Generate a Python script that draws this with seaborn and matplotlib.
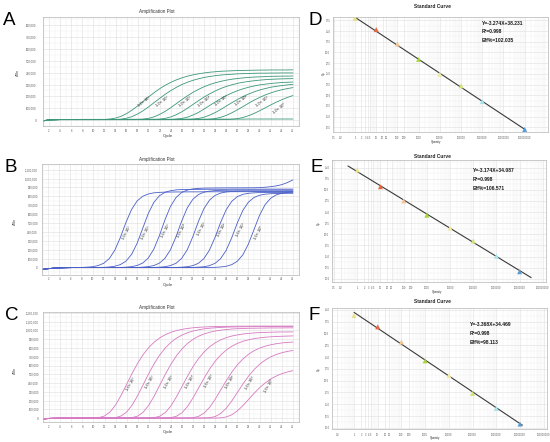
import matplotlib
matplotlib.use("Agg")
import numpy as np
import pandas as pd
import matplotlib.pyplot as plt
import seaborn as sns
from matplotlib.ticker import (FixedLocator, MultipleLocator, FuncFormatter,
                               LogLocator, NullFormatter, FormatStrFormatter)

# ---------------- data ----------------
curve_labels = ["1.0× 10⁷", "1.0× 10⁶", "1.0× 10⁵", "1.0× 10⁴",
                "1.0× 10³", "1.0× 10²", "1.0× 10¹", "1.0× 10⁰"]

# Panel A: delta Rn (thousands) per cycle 1..46
A7 = [-6,2,3,4,4,4,4,4,4,4,
      4,5,9,17,32,55,85,120,159,197,
      233,266,295,319,340,357,371,382,391,398,
      404,408,412,414,416,418,419,420,421,422,
      422,423,423,423,423,424]
A6 = [-6,2,3,4,4,4,4,4,4,4,
      4,4,4,5,8,16,30,52,80,113,
      149,185,219,250,277,301,320,336,349,360,
      368,375,380,384,387,390,392,393,395,396,
      396,397,397,398,398,398]
A5 = [-6,2,3,4,4,4,4,4,4,4,
      4,4,4,4,4,4,4,5,8,15,
      28,49,75,106,140,174,206,235,260,282,
      300,315,327,337,345,351,356,360,363,365,
      367,369,370,371,371,372]
A4 = [-6,2,3,4,4,4,4,4,4,4,
      4,4,4,4,4,4,4,4,4,4,
      5,8,15,27,46,71,101,133,165,195,
      222,246,267,284,298,310,319,326,332,337,
      341,344,346,348,349,350]
A3 = [-6,2,3,4,4,4,4,4,4,4,
      4,4,4,4,4,4,4,4,4,4,
      4,4,4,5,8,14,25,43,66,94,
      124,153,181,207,229,248,264,277,288,297,
      303,309,313,317,319,321]
A2 = [-6,2,3,4,4,4,4,4,4,4,
      4,4,4,4,4,4,4,4,4,4,
      4,4,4,4,4,4,5,8,14,25,
      42,64,90,119,147,174,199,220,238,254,
      266,277,285,291,297,301]
A1 = [-6,2,3,4,4,4,4,4,4,4,
      4,4,4,4,4,4,4,4,4,4,
      4,4,4,4,4,4,4,4,4,5,
      7,13,24,40,62,87,114,142,168,191,
      212,229,244,256,266,274]
A0 = [-6,2,3,4,4,4,4,4,4,4,
      4,4,4,4,4,4,4,4,4,4,
      4,4,4,4,4,4,4,4,4,4,
      4,4,4,5,7,12,22,37,56,79,
      103,128,151,172,191,207]
A_ntc = [-6,2,3,4,5,5,5,6,6,6,
         6,6,6,6,6,7,7,7,7,7,
         7,7,7,7,8,8,8,8,8,8,
         8,8,8,8,8,8,8,9,9,9,
         9,9,9,9,9,9]

# Panel B
B7 = [-20,-12,-6,-3,-1,0,1,2,5,10,
      23,49,101,197,341,509,653,749,801,827,
      840,845,848,849,850,850,851,851,851,852,
      852,852,852,853,853,853,853,853,854,854,
      854,854,854,855,855,855]
B6 = [-20,-12,-6,-3,-1,0,1,1,1,1,
      2,3,7,16,34,73,148,273,440,607,
      732,807,846,864,873,877,878,879,879,880,
      880,880,880,880,881,881,881,881,881,881,
      882,882,882,882,882,882]
B5 = [-20,-12,-6,-3,-1,0,1,1,1,1,
      1,1,1,1,2,5,11,24,51,107,
      207,359,536,688,788,844,871,884,890,893,
      894,895,895,896,896,896,896,897,897,899,
      903,909,918,932,955,985]
B4 = [-20,-12,-6,-3,-1,0,1,1,1,1,
      1,1,1,1,1,1,1,2,5,11,
      23,50,104,201,349,521,669,766,820,847,
      859,865,868,869,870,870,870,871,871,871,
      871,872,872,872,872,872]
B3 = [-20,-12,-6,-3,-1,0,1,1,1,1,
      1,1,1,1,1,1,1,1,1,1,
      2,5,10,23,49,103,199,345,515,661,
      757,811,837,850,855,858,859,860,860,860,
      861,861,861,861,862,862]
B2 = [-20,-12,-6,-3,-1,0,1,1,1,1,
      1,1,1,1,1,1,1,1,1,1,
      1,1,1,1,2,5,10,22,48,101,
      196,339,506,649,744,797,823,835,840,843,
      844,845,845,845,846,846]
B1 = [-20,-12,-6,-3,-1,0,1,1,1,1,
      1,1,1,1,1,1,1,1,1,1,
      1,1,1,1,1,1,1,2,5,10,
      22,48,100,193,335,500,642,735,787,813,
      825,830,833,834,835,835]
B0 = [-20,-12,-6,-3,-1,0,1,1,1,1,
      1,1,1,1,1,1,1,1,1,1,
      1,1,1,1,1,1,1,1,1,1,
      1,3,7,15,33,71,143,264,425,587,
      707,779,817,835,845,850]

# Panel C
C7 = [-12,-4,-1,0,0,0,0,0,0,1,
      5,24,69,150,260,386,513,628,727,807,
      869,917,953,980,999,1013,1023,1031,1036,1040,
      1043,1045,1046,1047,1048,1049,1049,1049,1050,1050,
      1050,1050,1050,1050,1050,1050]
C6 = [-12,-4,-1,0,0,0,0,0,0,0,
      0,0,1,5,24,69,149,259,384,510,
      625,723,803,865,913,948,975,994,1008,1019,
      1026,1031,1035,1038,1040,1041,1042,1043,1044,1044,
      1045,1045,1045,1045,1045,1045]
C5 = [-12,-4,-1,0,0,0,0,0,0,0,
      0,0,0,0,0,1,5,23,68,147,
      255,379,503,616,713,791,853,900,935,961,
      980,994,1004,1011,1017,1020,1023,1025,1026,1027,
      1028,1029,1029,1029,1030,1030]
C4 = [-12,-4,-1,0,0,0,0,0,0,0,
      0,0,0,0,0,0,0,0,0,1,
      5,22,65,140,244,362,481,590,682,757,
      815,860,894,919,937,950,960,967,972,976,
      978,980,982,983,983,984]
C3 = [-12,-4,-1,0,0,0,0,0,0,0,
      0,0,0,0,0,0,0,0,0,0,
      0,0,1,5,21,62,134,233,346,459,
      563,651,722,778,821,853,877,894,907,916,
      923,928,931,934,936,938]
C2 = [-12,-4,-1,0,0,0,0,0,0,0,
      0,0,0,0,0,0,0,0,0,0,
      0,0,0,0,0,0,1,4,20,58,
      125,218,324,430,527,609,676,729,769,799,
      821,837,849,858,864,868]
C1 = [-12,-4,-1,0,0,0,0,0,0,0,
      0,0,0,0,0,0,0,0,0,0,
      0,0,0,0,0,0,0,0,0,1,
      4,18,53,114,198,294,391,479,554,615,
      662,699,726,746,761,772]
C0 = [-12,-4,-1,0,0,0,0,0,0,0,
      0,0,0,0,0,0,0,0,0,0,
      0,0,0,0,0,0,0,0,0,0,
      0,0,3,13,38,83,144,213,283,347,
      401,446,480,507,526,541]

# Standard curves
d_qty = [1, 10, 100, 1000, 1e4, 1e5, 1e6, 1e8]
d_cp = [38.0, 35.35, 32.0, 28.4, 24.9, 22.2, 18.5, 12.0]
d_slope, d_icpt = -3.274, 38.231
d_eq = ["Y=-3.274X+38.231", "R²=0.998", "Eff%=102.035"]

e_qty = [1, 10, 100, 1000, 1e4, 1e5, 1e6, 1e7]
e_cp = [34.45, 30.7, 27.5, 24.3, 21.4, 18.5, 15.1, 11.6]
e_slope, e_icpt = -3.174, 34.087
e_eq = ["Y=-3.174X+34.087", "R²=0.998", "Eff%=106.571"]

f_qty = [1, 10, 100, 1000, 1e4, 1e5, 1e6, 1e7]
f_cp = [33.8, 31.4, 28.2, 24.2, 21.1, 17.3, 14.1, 10.8]
f_slope, f_icpt = -3.368, 34.469
f_eq = ["Y=-3.368X+34.469", "R²=0.998", "Eff%=98.113"]

# ---------------- style / layout ----------------
sns.set_style("white")
plt.rcParams["font.family"] = ["Liberation Sans", "DejaVu Sans"]

W, H = 550, 442
fig = plt.figure(figsize=(W / 100, H / 100), dpi=100)
fig.patch.set_facecolor("white")


def box(l, t, r, b):
    return [l / W, 1 - b / H, (r - l) / W, (b - t) / H]


def ftext(x, y, s, **kw):
    fig.text(x / W, 1 - y / H, s, **kw)


point_colors = ["#e6e18a", "#e9663c", "#f2c596", "#a6d23a",
                "#eeeaa0", "#d3df7a", "#a4e4ea", "#5a9dd6"]


def amp_panel(rect, curves, color, ylim, lab_x, lab_y, lab_rot, ypad):
    ax = fig.add_axes(rect)
    rows = []
    for j, vals in enumerate(curves):
        for i, v in enumerate(vals):
            rows.append({"cycle": i + 1, "drn": v * 1000.0, "curve": f"c{j}"})
    df = pd.DataFrame(rows)
    order = [f"c{j}" for j in range(len(curves))]
    sns.lineplot(data=df, x="cycle", y="drn", hue="curve", hue_order=order,
                 palette=[color] * len(order), estimator=None, legend=False,
                 linewidth=0.6, ax=ax)
    ax.set_xlim(0.9, 47.1)
    ax.set_ylim(*ylim)
    ax.xaxis.set_major_locator(FixedLocator(list(range(2, 47, 2))))
    ax.xaxis.set_minor_locator(MultipleLocator(1))
    ax.yaxis.set_major_locator(MultipleLocator(100000))
    ax.yaxis.set_minor_locator(MultipleLocator(50000))
    ax.yaxis.set_major_formatter(FuncFormatter(lambda v, p: f"{int(round(v)):,}"))
    ax.set_axisbelow(True)
    ax.grid(which="major", color="#dedede", linewidth=0.4)
    ax.grid(which="minor", color="#f0f0f0", linewidth=0.3)
    ax.tick_params(axis="both", which="major", labelsize=2.0, length=1.0,
                   width=0.3, colors="#555555")
    ax.tick_params(axis="x", pad=0.8)
    ax.tick_params(axis="y", pad=ypad)
    ax.tick_params(which="minor", length=0)
    ax.set_xlabel("")
    ax.set_ylabel("")
    for s in ax.spines.values():
        s.set_color("#b5b5b5")
        s.set_linewidth(0.5)
    for j in range(len(lab_x)):
        ax.text(lab_x[j], lab_y[j] * 1000.0, curve_labels[j], rotation=lab_rot,
                ha="center", va="center", fontsize=2.9, color="#222222",
                rotation_mode="anchor")
    return ax


def tick_fmt(v, p):
    if v < 1:
        return "%g" % v
    return str(int(round(v)))


def std_panel(rect, qty, cp, slope, icpt, line_logq, xlim_log, ylim, max_dec):
    ax = fig.add_axes(rect)
    ax.set_xscale("log")
    lq = np.array(line_logq)
    sns.lineplot(x=10.0 ** lq, y=slope * lq + icpt, color="#3a3a3a",
                 linewidth=0.8, ax=ax)
    dfp = pd.DataFrame({"q": qty, "cp": cp,
                        "k": [str(i) for i in range(len(qty))]})
    sns.scatterplot(data=dfp, x="q", y="cp", hue="k", palette=point_colors,
                    marker="^", s=13, edgecolor="none", legend=False, ax=ax,
                    zorder=3)
    ax.set_xlim(10 ** xlim_log[0], 10 ** xlim_log[1])
    ax.set_ylim(*ylim)
    ticks = [0.1, 0.2, 1, 2, 3, 4, 5, 10, 20, 30, 100, 200] + \
        [10 ** k for k in range(3, max_dec + 1)]
    ax.xaxis.set_major_locator(FixedLocator(ticks))
    ax.xaxis.set_major_formatter(FuncFormatter(tick_fmt))
    ax.xaxis.set_minor_locator(LogLocator(base=10, subs=np.arange(2, 10) * 1.0,
                                          numticks=40))
    ax.xaxis.set_minor_formatter(NullFormatter())
    ax.yaxis.set_major_locator(MultipleLocator(2.5))
    ax.yaxis.set_minor_locator(MultipleLocator(1.25))
    ax.yaxis.set_major_formatter(FormatStrFormatter("%.1f"))
    ax.set_axisbelow(True)
    ax.grid(which="major", color="#e0e0e0", linewidth=0.4)
    ax.grid(which="minor", color="#eeeeee", linewidth=0.3)
    ax.tick_params(axis="both", which="major", labelsize=1.8, length=0.8,
                   width=0.3, colors="#555555")
    ax.tick_params(axis="x", pad=1.8)
    ax.tick_params(axis="y", pad=1.0)
    ax.tick_params(which="minor", length=0)
    ax.set_xlabel("")
    ax.set_ylabel("")
    for s in ax.spines.values():
        s.set_color("#b5b5b5")
        s.set_linewidth(0.5)
    return ax


# ---------------- amplification plots ----------------
amp_panel(box(43, 17, 299, 126), [A7, A6, A5, A4, A3, A2, A1, A0, A_ntc],
          "#3c977a", (-50000, 870000),
          [19.2, 22.5, 26.5, 30.0, 33.0, 36.6, 40.4, 43.6],
          [152, 152, 156, 160, 160, 160, 156, 95], 38, 4.0)
amp_panel(box(42, 164, 299, 275), [B7, B6, B5, B4, B3, B2, B1, B0],
          "#4a5fc8", (-83000, 1164000),
          [16.1, 19.6, 23.2, 26.1, 29.6, 33.2, 36.6, 39.8],
          [393, 393, 411, 419, 430, 419, 419, 393], 62, 2.0)
amp_panel(box(43, 312, 299, 422), [C7, C6, C5, C4, C3, C2, C1, C0],
          "#d77ac2", (-45000, 1211000),
          [16.8, 20.1, 23.6, 27.4, 30.8, 34.6, 38.3, 41.6],
          [386, 409, 409, 409, 424, 409, 398, 370], 60, 2.0)

# ---------------- standard curves ----------------
std_panel(box(333, 17, 548, 132), d_qty, d_cp, d_slope, d_icpt, [0.0, 8.05],
          (-1.04, 9.1), (11.4, 38.3), 8)
std_panel(box(332, 160, 546, 282), e_qty, e_cp, e_slope, e_icpt, [-0.4, 7.5],
          (-1.09, 8.14), (9.3, 36.7), 8)
std_panel(box(332, 308, 547, 429), f_qty, f_cp, f_slope, f_icpt, [0.0, 7.1],
          (-0.93, 8.14), (9.75, 35.4), 8)

# ---------------- texts ----------------
for x, y, s in [(3, 25, "A"), (5, 171.5, "B"), (5, 320, "C"),
                (309, 25, "D"), (310, 171.5, "E"), (308, 320, "F")]:
    ftext(x, y, s, fontsize=13.5, ha="left", va="baseline", color="black")

for y in (11, 160, 308):
    ftext(157, y, "Amplification Plot", fontsize=3.3, ha="center",
          va="center", color="#333333")
for y in (136.5, 285, 432.5):
    ftext(168, y, "Cycle", fontsize=3.0, ha="center", va="center",
          color="#333333")
for x, y in ((18, 72), (15, 221), (15, 370)):
    ftext(x, y, "ΔRn", fontsize=2.6, ha="center", va="center", rotation=90,
          color="#333333")

for y in (6, 156, 301.7):
    ftext(432, y, "Standard Curve", fontsize=3.5, ha="center", va="center",
          weight="bold", color="#222222")
for x, y in ((436, 142.5), (436.7, 291.5), (435, 437.5)):
    ftext(x, y, "Quantity", fontsize=2.0, ha="center", va="center",
          color="#333333")
for x, y in ((324, 73), (319, 223), (319, 369)):
    ftext(x, y, "Cp", fontsize=2.0, ha="center", va="center", rotation=90,
          color="#333333")

for eq, x, ys in ((d_eq, 482, (23.3, 31.7, 40.7)),
                  (e_eq, 473, (170, 179.3, 188.3)),
                  (f_eq, 470, (324.3, 333.7, 342.3))):
    for s, y in zip(eq, ys):
        ftext(x, y, s, fontsize=3.6, ha="left", va="center", weight="bold",
              color="#1a1a1a")

fig.savefig("out.png", dpi=100, facecolor="white")
